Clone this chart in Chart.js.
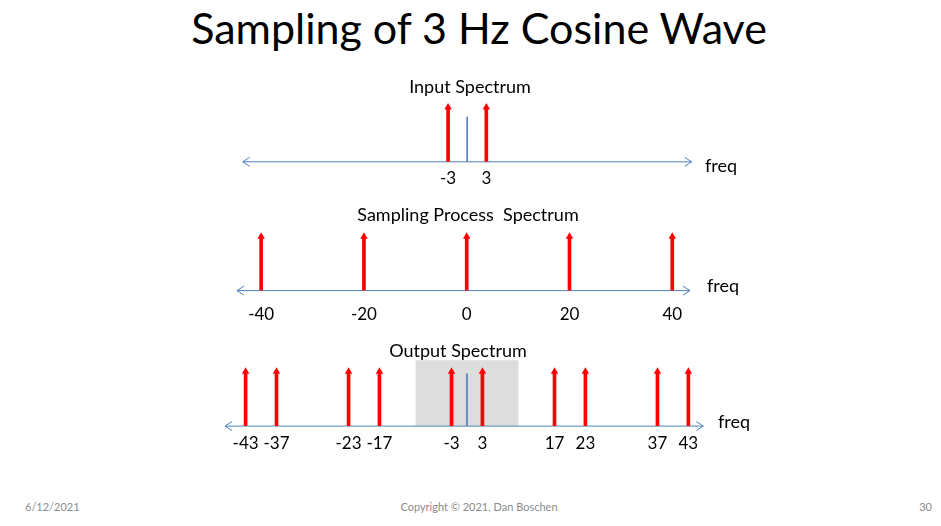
<!DOCTYPE html>
<html>
<head>
<meta charset="utf-8">
<script src="https://cdn.jsdelivr.net/npm/chart.js@4.4.0/dist/chart.umd.min.js"></script>
<style>
  html, body { margin: 0; padding: 0; background: #fff; }
  #slide { position: relative; width: 941px; height: 526px; overflow: hidden; font-family: Lato, sans-serif; }
  #title { position: absolute; left: 0; width: 958px; top: 2px; text-align: center; font-size: 43px; color: #000; white-space: nowrap; }
  canvas { position: absolute; left: 0; }
  .foot { position: absolute; top: 500px; font-size: 11px; color: #8b8b8b; white-space: nowrap; }
</style>
</head>
<body>
<div id="slide">
  <div id="title">Sampling of 3 Hz Cosine Wave</div>
  <canvas id="inputChart" width="941" height="140" style="top:60px"></canvas>
  <canvas id="samplingChart" width="941" height="150" style="top:190px"></canvas>
  <canvas id="outputChart" width="941" height="140" style="top:325px"></canvas>
  <div class="foot" style="left:25px">6/12/2021</div>
  <div class="foot" style="left:0; width:958px; text-align:center">Copyright © 2021, Dan Boschen</div>
  <div class="foot" style="right:9px">30</div>
</div>
<script>
// input cosine: lines at +/- 3 Hz
const inputFreqs = [-3, 3];
const inputAmps = [1, 1];
const inputTicks = [-3, 3];
const inputZeroMark = 0.82;

// sampling impulse train, fs = 20 Hz
const samplingFreqs = [-40, -20, 0, 20, 40];
const samplingAmps = [1, 1, 1, 1, 1];
const samplingTicks = [-40, -20, 0, 20, 40];

// output = input convolved with sampling train
const outputFreqs = [-43, -37, -23, -17, -3, 3, 17, 23, 37, 43];
const outputAmps = [1, 1, 1, 1, 1, 1, 1, 1, 1, 1];
const outputTicks = [-43, -37, -23, -17, -3, 3, 17, 23, 37, 43];
const outputZeroMark = 0.96;
const outputBand = [-10, 10];
const outputBandTop = 1.21;

const RED = '#FF0000';
const AXIS_BLUE = '#4F81BD';
const FONT = 'Lato';

const spectrumDecor = {
  id: 'spectrumDecor',
  beforeDatasetsDraw(chart, args, o) {
    const {ctx, chartArea: a, scales: {x, y}} = chart;
    const y0 = y.getPixelForValue(0);
    ctx.save();
    if (o.band) {
      const x0 = x.getPixelForValue(o.band[0]);
      const x1 = x.getPixelForValue(o.band[1]);
      const yt = y.getPixelForValue(o.bandTop);
      ctx.fillStyle = '#DDDDDD';
      ctx.fillRect(x0, yt, x1 - x0, y0 - yt);
    }
    ctx.strokeStyle = AXIS_BLUE;
    ctx.lineWidth = 1;
    ctx.beginPath();
    ctx.moveTo(a.left, y0);
    ctx.lineTo(a.right, y0);
    ctx.moveTo(a.left + 7, y0 - 4.5);
    ctx.lineTo(a.left, y0);
    ctx.lineTo(a.left + 7, y0 + 4.5);
    ctx.moveTo(a.right - 7, y0 - 4.5);
    ctx.lineTo(a.right, y0);
    ctx.lineTo(a.right - 7, y0 + 4.5);
    ctx.stroke();
    ctx.restore();
  },
  afterDraw(chart, args, o) {
    const {ctx, scales: {y}} = chart;
    const y0 = y.getPixelForValue(0);
    ctx.save();
    ctx.fillStyle = '#000';
    ctx.font = '18px ' + FONT;
    ctx.textAlign = 'center';
    ctx.textBaseline = 'middle';
    ctx.fillText(o.title, o.titleX, o.titleY);
    ctx.textAlign = 'left';
    ctx.textBaseline = 'alphabetic';
    ctx.fillText('freq', o.freqX, y0 + o.freqDy);
    ctx.restore();
  }
};

function points(freqs, amps) {
  return freqs.map((f, i) => ({x: f, y: amps[i]}));
}

function stemChart(id, freqs, amps, ticks, opt) {
  const datasets = [];
  if (opt.zeroMark) {
    datasets.push({
      type: 'bar', data: [{x: 0, y: opt.zeroMark}], barThickness: 1,
      backgroundColor: AXIS_BLUE, grouped: false
    });
  }
  datasets.push({
    type: 'bar', data: points(freqs, amps), barThickness: 3,
    backgroundColor: RED, grouped: false
  });
  datasets.push({
    type: 'scatter', data: points(freqs, amps), pointStyle: 'triangle',
    pointRadius: 4.3, pointBackgroundColor: RED, pointBorderWidth: 0, clip: false
  });

  return new Chart(document.getElementById(id), {
    type: 'bar',
    data: {datasets},
    options: {
      responsive: false,
      animation: false,
      events: [],
      layout: {padding: opt.padding},
      plugins: {
        legend: {display: false},
        tooltip: {enabled: false},
        spectrumDecor: {
          title: opt.title, titleX: opt.titleX, titleY: opt.titleY,
          freqX: opt.freqX, freqDy: opt.freqDy,
          band: opt.band, bandTop: opt.bandTop
        }
      },
      scales: {
        x: {
          type: 'linear', min: opt.min, max: opt.max, offset: false,
          grid: {display: false, drawTicks: false},
          border: {display: false},
          afterBuildTicks: s => { s.ticks = ticks.map(v => ({value: v})); },
          ticks: {
            autoSkip: false, maxRotation: 0, padding: opt.tickPad,
            color: '#000', font: {family: FONT, size: 17},
            callback: v => String(v)
          }
        },
        y: {display: false, min: 0, max: 1.25}
      }
    },
    plugins: [spectrumDecor]
  });
}

stemChart('inputChart', inputFreqs, inputAmps, inputTicks, {
  title: 'Input Spectrum', titleX: 470, titleY: 27,
  min: -35.2, max: 35.2, tickPad: 7,
  padding: {top: 33.75, left: 242.7, right: 249.3, bottom: 3.8},
  freqX: 705, freqDy: 10, zeroMark: inputZeroMark
});

stemChart('samplingChart', samplingFreqs, samplingAmps, samplingTicks, {
  title: 'Sampling Process  Spectrum', titleX: 468, titleY: 25,
  min: -44.7, max: 43.45, tickPad: 13.5,
  padding: {top: 33.05, left: 237, right: 251, bottom: 2},
  freqX: 707, freqDy: 1
});

stemChart('outputChart', outputFreqs, outputAmps, outputTicks, {
  title: 'Output Spectrum', titleX: 458, titleY: 26,
  min: -47.0, max: 45.9, tickPad: 7,
  padding: {top: 33.05, left: 225, right: 237.7, bottom: 4.5},
  freqX: 718, freqDy: 1.5, zeroMark: outputZeroMark,
  band: outputBand, bandTop: outputBandTop
});
</script>
</body>
</html>
